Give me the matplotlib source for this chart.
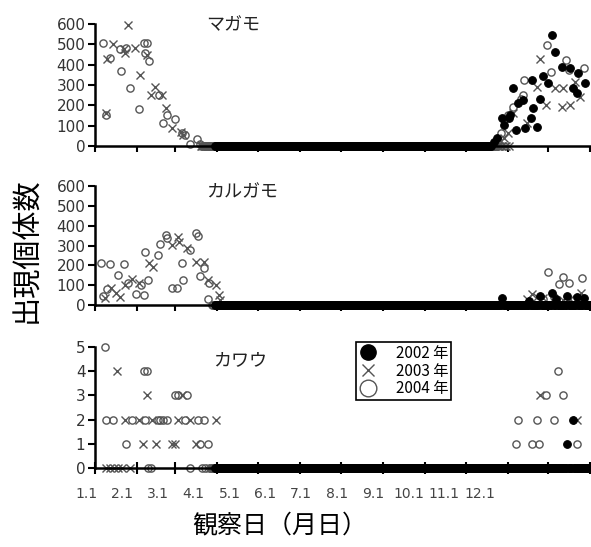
import matplotlib
matplotlib.use("Agg")
import matplotlib.pyplot as plt
from matplotlib.lines import Line2D

plt.rcParams['font.family'] = ['Noto Sans CJK JP', 'DejaVu Sans']

# day of year (0 = Jan 1)
month_start = [0, 31, 59, 90, 120, 151, 181, 212, 243, 273, 304, 334, 365]
month_labels = ['1.1', '2.1', '3.1', '4.1', '5.1', '6.1', '7.1', '8.1', '9.1', '10.1', '11.1', '12.1']
year_labels = ['2002 年', '2003 年', '2004 年']

# ---- マガモ ----
magamo_2002_day = [294, 296, 300, 301, 305, 306, 308, 310, 312, 315, 317, 321, 322, 323,
                   326, 328, 330, 334, 337, 339, 344, 350, 352, 355, 356, 361]
magamo_2002_n = [20, 39, 138, 103, 138, 152, 285, 79, 211, 226, 89, 138, 325, 187,
                 94, 231, 344, 310, 546, 462, 390, 384, 285, 260, 359, 310]
magamo_2003_day = [8, 9, 13, 21, 22, 24, 29, 33, 38, 41, 44, 49, 52, 57, 63, 65,
                   301, 304, 308, 318, 326, 328, 332, 339, 344, 345, 350, 354, 357]
magamo_2003_n = [162, 428, 500, 477, 457, 595, 482, 349, 448, 251, 290, 251, 187, 89, 69, 54,
                 39, 64, 162, 113, 290, 428, 202, 285, 192, 285, 202, 315, 241]
magamo_2004_day = [6, 8, 11, 18, 19, 23, 26, 32, 36, 37, 38, 40, 47, 50, 53, 59, 64, 66, 70, 75, 77,
                   297, 299, 301, 304, 308, 314, 315, 316, 333, 336, 347, 349, 360]
magamo_2004_n = [507, 152, 433, 477, 369, 482, 285, 182, 507, 457, 507, 418, 251, 113, 152, 133,
                 64, 54, 10, 34, 10,
                 30, 64, 128, 152, 192, 231, 251, 325, 497, 364, 423, 374, 384]
magamo_zero = [(88, 293), (78, 306), (79, 297)]

# ---- カルガモ ----
karugamo_2002_day = [300, 320, 328, 337, 340, 348, 355, 360]
karugamo_2002_n = [35, 20, 45, 64, 30, 45, 40, 35]
karugamo_2003_day = [7, 12, 15, 18, 22, 27, 32, 40, 43, 57, 61, 62, 68, 74, 80, 83, 89, 91, 92,
                     318, 322, 326, 330, 345, 350, 358]
karugamo_2003_n = [35, 89, 60, 40, 104, 134, 114, 213, 193, 303, 342, 317, 288, 218, 218, 129,
                   104, 50, 25,
                   30, 55, 40, 35, 25, 30, 60]
karugamo_2004_day = [4, 6, 9, 11, 17, 21, 24, 30, 34, 36, 37, 39, 46, 48, 52, 53, 57, 60, 64, 65,
                     70, 74, 76, 77, 80, 83, 84,
                     330, 334, 338, 342, 345, 349, 359]
karugamo_2004_n = [213, 45, 84, 208, 154, 208, 114, 55, 104, 50, 268, 129, 253, 308, 352, 337,
                   89, 89, 213, 129, 278, 362, 347, 149, 188, 30, 114,
                   30, 169, 40, 109, 144, 114, 139]
karugamo_zero = [(88, 366), (93, 366), (86, 366)]

# ---- カワウ ----
kawau_2002_day = [348, 352]
kawau_2002_n = [1, 2]
kawau_2003_day = [8, 11, 14, 16, 17, 20, 22, 26, 32, 35, 38, 42, 45, 57, 59, 61, 64, 70, 74, 89,
                  328, 355]
kawau_2003_n = [0, 0, 0, 4, 0, 0, 2, 0, 2, 1, 3, 2, 1, 1, 1, 2, 3, 2, 1, 2,
                3, 2]
kawau_2004_day = [7, 8, 13, 23, 27, 36, 37, 38, 39, 41, 46, 48, 50, 53, 59, 61, 66, 68, 70, 76,
                  77, 79, 80, 81, 83,
                  310, 312, 322, 326, 327, 332, 338, 341, 345, 355]
kawau_2004_n = [5, 2, 2, 1, 2, 4, 2, 4, 0, 0, 2, 2, 2, 2, 3, 3, 2, 3, 0, 2,
                1, 0, 2, 0, 1,
                1, 2, 1, 2, 1, 3, 2, 4, 3, 1]
kawau_zero = [(88, 366), (85, 366), (85, 366)]

styles = [
    dict(marker='o', ms=5.5, mfc='black', mec='black', mew=0.8, ls='none'),
    dict(marker='x', ms=5.5, color='#555555', mew=1.0, ls='none'),
    dict(marker='o', ms=5.2, mfc='none', mec='#555555', mew=1.0, ls='none'),
]


def with_zeros(days, counts, span):
    taken = set(days)
    zd = [d for d in range(span[0], span[1]) if d not in taken]
    return list(days) + zd, list(counts) + [0] * len(zd)


panels = [
    ('マガモ', [(magamo_2002_day, magamo_2002_n), (magamo_2003_day, magamo_2003_n),
              (magamo_2004_day, magamo_2004_n)], magamo_zero,
     [0.161, 0.733, 0.838, 0.223], (0, 600), range(0, 601, 100), (0.279, 0.99)),
    ('カルガモ', [(karugamo_2002_day, karugamo_2002_n), (karugamo_2003_day, karugamo_2003_n),
               (karugamo_2004_day, karugamo_2004_n)], karugamo_zero,
     [0.161, 0.442, 0.838, 0.218], (0, 600), range(0, 601, 100), (0.297, 0.95)),
    ('カワウ', [(kawau_2002_day, kawau_2002_n), (kawau_2003_day, kawau_2003_n),
              (kawau_2004_day, kawau_2004_n)], kawau_zero,
     [0.161, 0.1444, 0.838, 0.221], (0, 5), range(0, 6), (0.293, 0.89)),
]

fig = plt.figure(figsize=(5.91, 5.47), dpi=100)

for i, (name, series, zeros, rect, ylim, yt, tpos) in enumerate(panels):
    ax = fig.add_axes(rect)
    # draw 2004, 2003, then 2002 on top
    for k in [2, 1, 0]:
        d, n = with_zeros(series[k][0], series[k][1], zeros[k])
        ax.plot(d, n, clip_on=False, **styles[k])
    ax.set_xlim(0, 365)
    ax.set_ylim(*ylim)
    ax.set_yticks(list(yt))
    ax.set_xticks(month_start)
    ax.set_xticklabels([])
    for s in ['top', 'right']:
        ax.spines[s].set_visible(False)
    for s in ['left', 'bottom']:
        ax.spines[s].set_linewidth(1.8)
    ax.tick_params(axis='y', direction='out', length=5, width=1.5, labelsize=11,
                   labelcolor='#333333', pad=2)
    for lab in ax.get_yticklabels():
        lab.set_family('DejaVu Sans')
    if i == 2:
        ax.tick_params(axis='x', direction='inout', length=8, width=1.5)
    else:
        ax.tick_params(axis='x', direction='out', length=4, width=1.5)
    ax.text(tpos[0], tpos[1], name, transform=ax.transAxes, ha='center', va='center',
            fontsize=13, color='#222222')
    if i == 2:
        for j, lab in enumerate(month_labels):
            ax.text(-0.018 + 0.0723 * j, -0.215, lab, transform=ax.transAxes,
                    ha='center', va='center', fontsize=10, color='#444444',
                    family='DejaVu Sans')
        handles = [
            Line2D([], [], marker='o', ms=11, mfc='black', mec='black', ls='none'),
            Line2D([], [], marker='x', ms=9, color='#555555', mew=1.0, ls='none'),
            Line2D([], [], marker='o', ms=12, mfc='none', mec='#555555', mew=1.0, ls='none'),
        ]
        leg = ax.legend(handles, year_labels, loc='upper left', bbox_to_anchor=(0.527, 1.045),
                        fontsize=11, frameon=True, fancybox=False, framealpha=1,
                        edgecolor='black', borderpad=0.2, labelspacing=0.05,
                        handletextpad=1.2, handlelength=1.2, borderaxespad=0)
        leg.get_frame().set_linewidth(1.2)

fig.text(0.046, 0.543, '出現個体数', rotation=90, ha='center', va='center', fontsize=21)
fig.text(0.474, 0.037, '観察日（月日）', ha='center', va='center', fontsize=18)

fig.savefig('out.png', dpi=100)
